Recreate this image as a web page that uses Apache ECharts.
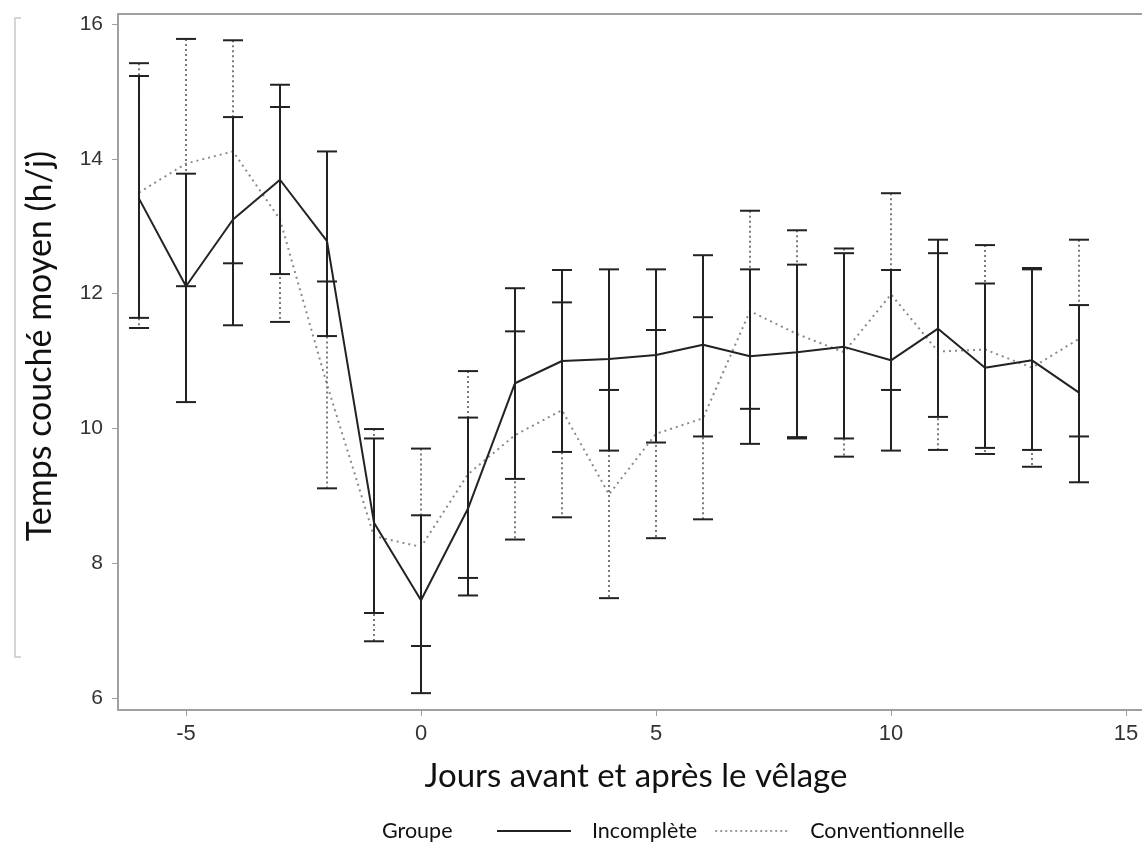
<!DOCTYPE html>
<html>
<head>
<meta charset="utf-8">
<script src="https://cdn.jsdelivr.net/npm/echarts@6/dist/echarts.min.js"></script>
<style>
  html, body { margin: 0; padding: 0; background: #fff; overflow: hidden; }
  #chart { width: 1142px; height: 852px; }
</style>
</head>
<body>
<div id="chart"></div>
<script>
// Jours relatifs au vêlage
const days = [-6, -5, -4, -3, -2, -1, 0, 1, 2, 3, 4, 5, 6, 7, 8, 9, 10, 11, 12, 13, 14];

// Groupe « Incomplète » : moyenne et bornes de l'intervalle
const incMean = [13.41, 12.11, 13.10, 13.69, 12.78, 8.60, 7.45, 8.81, 10.67, 11.00, 11.03, 11.09, 11.24, 11.07, 11.13, 11.21, 11.01, 11.48, 10.90, 11.01, 10.53];
const incLow  = [11.64, 10.39, 11.53, 12.29, 11.37, 7.26, 6.07, 7.52, 9.25, 9.65, 9.67, 9.79, 9.88, 9.77, 9.85, 9.85, 9.67, 10.17, 9.71, 9.68, 9.20];
const incHigh = [15.23, 13.78, 14.62, 15.10, 14.11, 9.85, 8.71, 10.16, 12.08, 12.35, 12.36, 12.36, 12.57, 12.36, 12.43, 12.60, 12.35, 12.80, 12.15, 12.36, 11.83];

// Groupe « Conventionnelle »
const convMean = [13.50, 13.93, 14.11, 13.10, 10.65, 8.40, 8.24, 9.32, 9.90, 10.27, 9.02, 9.92, 10.15, 11.74, 11.40, 11.13, 11.99, 11.14, 11.17, 10.90, 11.33];
const convLow  = [11.49, 12.11, 12.45, 11.58, 9.11, 6.84, 6.77, 7.78, 8.35, 8.68, 7.48, 8.37, 8.65, 10.29, 9.87, 9.58, 10.57, 9.68, 9.62, 9.43, 9.88];
const convHigh = [15.42, 15.78, 15.76, 14.77, 12.18, 9.99, 9.70, 10.85, 11.44, 11.87, 10.57, 11.46, 11.65, 13.23, 12.94, 12.67, 13.49, 12.60, 12.72, 12.38, 12.80];

const xTicks = [-5, 0, 5, 10, 15];
const yTicks = [6, 8, 10, 12, 14, 16];

const chart = echarts.init(document.getElementById('chart'), null, { renderer: 'canvas' });

// Barres d'erreur : trait vertical + deux chapeaux
function errorBars(stemDash, stemColor) {
  return function (params, api) {
    const x = api.value(0);
    const top = api.coord([x, api.value(2)]);
    const bot = api.coord([x, api.value(1)]);
    const half = 10;
    return {
      type: 'group',
      children: [
        { type: 'line', shape: { x1: top[0], y1: top[1], x2: bot[0], y2: bot[1] },
          style: { stroke: stemColor, lineWidth: 2, lineDash: stemDash } },
        { type: 'line', shape: { x1: top[0] - half, y1: top[1], x2: top[0] + half, y2: top[1] },
          style: { stroke: '#222', lineWidth: 2 } },
        { type: 'line', shape: { x1: bot[0] - half, y1: bot[1], x2: bot[0] + half, y2: bot[1] },
          style: { stroke: '#222', lineWidth: 2 } }
      ]
    };
  };
}

// Icônes de légende : trait plein et trait pointillé
const solidIcon = 'path://M0,0H74V2H0Z';
let dotted = '';
for (let i = 0; i < 74; i += 5) dotted += 'M' + i + ',0h2v2h-2z';
const dottedIcon = 'path://' + dotted + 'M73.99,0h0.01v2h-0.01z';

const axisGray = '#a0a0a0';
const xMin = -6.447, xMax = 15.468;

chart.setOption({
  animation: false,
  backgroundColor: '#fff',
  grid: { left: 118, right: -6, top: 14, bottom: 142, show: false, outerBoundsMode: 'none', containLabel: false },
  xAxis: [
    {
      type: 'value',
      min: xMin, max: xMax,
      splitLine: { show: false },
      axisLine: { show: true, onZero: false, lineStyle: { color: axisGray, width: 2 } },
      axisTick: { show: true, length: 6, lineStyle: { color: axisGray }, customValues: xTicks },
      axisLabel: { customValues: xTicks, color: '#333', fontFamily: 'Liberation Sans', fontSize: 22, margin: 13 },
      name: 'Jours avant et après le vêlage',
      nameLocation: 'middle',
      nameGap: 50,
      nameTextStyle: { fontFamily: 'Lato', fontSize: 33, color: '#111', padding: [0, 0, 0, 6] }
    },
    {
      // trait du cadre en haut
      type: 'value', position: 'top',
      min: xMin, max: xMax,
      splitLine: { show: false },
      axisLine: { show: true, onZero: false, lineStyle: { color: axisGray, width: 2 } },
      axisTick: { show: false },
      axisLabel: { show: false }
    }
  ],
  yAxis: {
    type: 'value',
    min: 5.82, max: 16.15,
    splitLine: { show: false },
    axisLine: { show: true, onZero: false, lineStyle: { color: axisGray, width: 2 } },
    axisTick: { show: true, length: 6, lineStyle: { color: axisGray }, customValues: yTicks },
    axisLabel: { customValues: yTicks, color: '#333', fontFamily: 'Liberation Sans', fontSize: 21, margin: 15 }
  },
  legend: {
    left: 497, top: 820, padding: 0,
    itemWidth: 74, itemHeight: 14, itemGap: 18,
    textStyle: { fontFamily: 'Lato', fontSize: 21.5, color: '#111', padding: [0, 0, 0, 16] },
    data: [
      { name: 'Incomplète', icon: solidIcon },
      { name: 'Conventionnelle', icon: dottedIcon }
    ]
  },
  graphic: [
    { type: 'text', left: 382, top: 820, style: { text: 'Groupe', font: '21.5px Lato', fill: '#111' } },
    { type: 'text', x: 40, y: 346, rotation: Math.PI / 2,
      style: { text: 'Temps couché moyen (h/j)', font: '34px Lato', fill: '#111', align: 'center', verticalAlign: 'middle' } },
    { type: 'polyline', shape: { points: [[21, 18], [15, 18], [15, 657], [21, 657]] },
      style: { stroke: '#c8c8c8', lineWidth: 1.5, fill: null } }
  ],
  series: [
    {
      name: 'Conventionnelle',
      type: 'line',
      data: days.map((d, i) => [d, convMean[i]]),
      showSymbol: false, symbol: 'none',
      lineStyle: { color: '#8a8a8a', width: 2, type: [2, 4] },
      itemStyle: { color: '#9a9a9a' },
      z: 2
    },
    {
      name: 'ConvErr',
      type: 'custom',
      data: days.map((d, i) => [d, convLow[i], convHigh[i]]),
      encode: { x: 0, y: [1, 2] },
      renderItem: errorBars([2, 3], '#7a7a7a'),
      z: 3
    },
    {
      name: 'IncErr',
      type: 'custom',
      data: days.map((d, i) => [d, incLow[i], incHigh[i]]),
      encode: { x: 0, y: [1, 2] },
      renderItem: errorBars(null, '#222'),
      z: 4
    },
    {
      name: 'Incomplète',
      type: 'line',
      data: days.map((d, i) => [d, incMean[i]]),
      showSymbol: false, symbol: 'none',
      lineStyle: { color: '#222', width: 2 },
      itemStyle: { color: '#222' },
      z: 5
    }
  ]
});
</script>
</body>
</html>
